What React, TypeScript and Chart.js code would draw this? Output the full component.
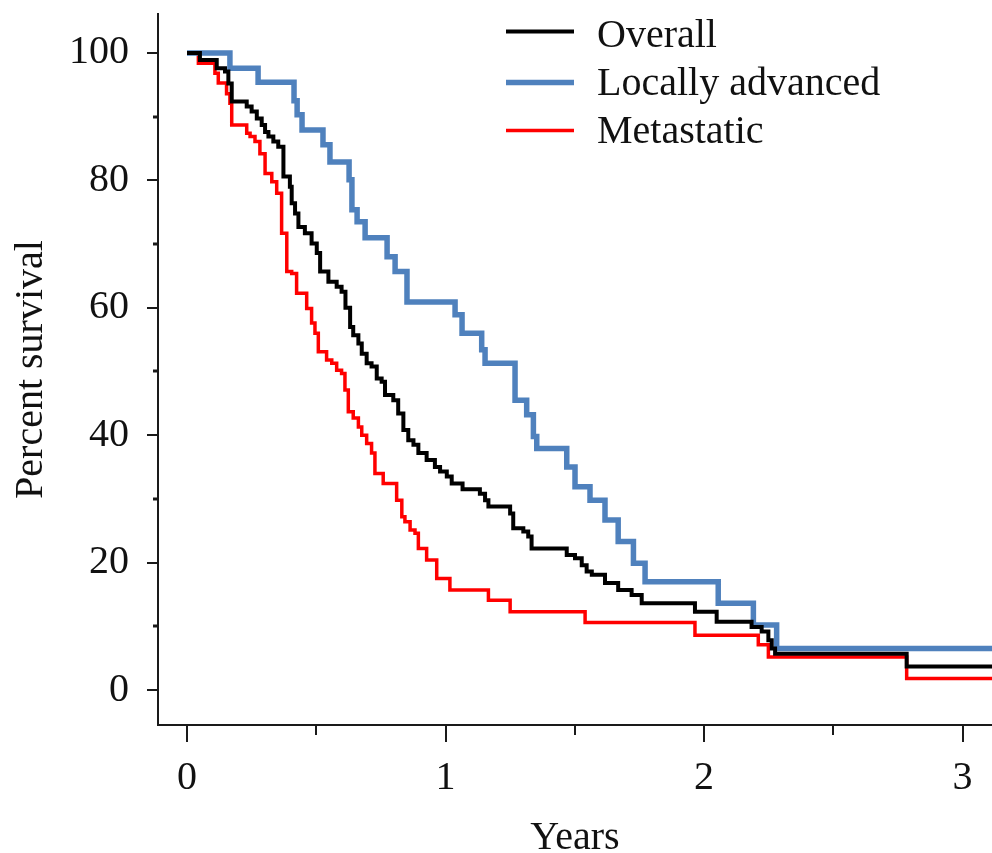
import React, { useEffect, useRef } from 'react';
import { Chart, registerables } from 'chart.js';

Chart.register(...registerables);

// ---------- data ----------
const overallYears = [
  0, 0.05, 0.115, 0.147, 0.16, 0.173, 0.231, 0.25, 0.27, 0.289, 0.302, 0.315, 0.334, 0.353,
  0.373, 0.398, 0.405, 0.418, 0.431, 0.456, 0.482, 0.502, 0.515, 0.547, 0.579, 0.598, 0.613,
  0.631, 0.643, 0.663, 0.676, 0.695, 0.714, 0.734, 0.753, 0.766, 0.798, 0.817, 0.837, 0.856,
  0.876, 0.895, 0.927, 0.959, 0.979, 1.005, 1.024, 1.066, 1.133, 1.153, 1.166, 1.25, 1.262,
  1.301, 1.32, 1.333, 1.469, 1.501, 1.527, 1.546, 1.566, 1.617, 1.668, 1.72, 1.759, 1.965,
  2.049, 2.184, 2.223, 2.249, 2.262, 2.275, 2.784, 3.2,
];
const overallPercent = [
  100, 98.9, 97.6, 97.1, 95.2, 92.4, 91.6, 90.8, 89.7, 88.7, 87.6, 86.9, 86.1, 85.3,
  80.6, 79.0, 76.4, 74.8, 72.7, 71.7, 70.1, 68.6, 65.7, 64.1, 63.3, 62.5, 60.0,
  57.0, 55.7, 54.4, 52.8, 51.3, 50.8, 48.9, 48.4, 46.3, 45.5, 43.4, 40.8, 39.2,
  38.5, 37.2, 36.1, 35.0, 34.3, 33.5, 32.4, 31.5, 30.8, 29.8, 28.8, 27.7, 25.4,
  24.9, 24.1, 22.2, 21.2, 20.7, 19.6, 18.6, 18.1, 16.8, 15.7, 14.9, 13.6, 12.3,
  10.7, 9.9, 9.2, 7.8, 6.5, 5.7, 3.7, 3.7,
];

const locallyYears = [
  0, 0.166, 0.275, 0.414, 0.426, 0.445, 0.526, 0.553, 0.627, 0.638, 0.658, 0.689, 0.774,
  0.805, 0.851, 1.037, 1.064, 1.14, 1.153, 1.269, 1.314, 1.34, 1.353, 1.469, 1.501, 1.559,
  1.617, 1.668, 1.727, 1.772, 2.055, 2.191, 2.281, 3.2,
];
const locallyPercent = [
  100, 97.6, 95.4, 92.5, 90.3, 87.9, 85.6, 82.9, 80.1, 75.4, 73.5, 71.0, 68.0,
  65.7, 60.9, 58.9, 56.0, 53.4, 51.3, 45.5, 43.2, 39.8, 37.9, 35.0, 31.9, 29.8,
  26.7, 23.3, 19.9, 17.0, 13.6, 10.2, 6.5, 6.5,
];

const metastaticYears = [
  0, 0.044, 0.108, 0.121, 0.153, 0.166, 0.173, 0.231, 0.244, 0.263, 0.282, 0.302, 0.328,
  0.347, 0.366, 0.386, 0.405, 0.424, 0.463, 0.482, 0.495, 0.508, 0.54, 0.56, 0.579, 0.598,
  0.611, 0.624, 0.643, 0.663, 0.676, 0.695, 0.714, 0.727, 0.759, 0.811, 0.831, 0.843,
  0.863, 0.882, 0.895, 0.927, 0.966, 1.017, 1.166, 1.25, 1.54, 1.965, 2.21, 2.249, 2.784, 3.2,
];
const metastaticPercent = [
  100, 98.4, 96.8, 95.3, 93.6, 92.1, 88.7, 87.4, 86.9, 86.1, 84.2, 81.1, 79.8,
  78.0, 71.7, 65.7, 65.4, 62.3, 59.9, 57.6, 56.0, 53.1, 51.8, 51.3, 50.2, 49.7,
  47.1, 43.7, 42.7, 41.3, 40.0, 38.7, 37.2, 34.0, 32.4, 29.8, 27.2, 26.4,
  25.1, 24.6, 22.2, 20.4, 17.5, 15.7, 14.1, 12.3, 10.6, 8.6, 7.1, 5.2, 1.8, 1.8,
];

const seriesLabels = ['Overall', 'Locally advanced', 'Metastatic'];
const xTickValues = [0, 1, 2, 3];
const xMinorTickValues = [0.5, 1.5, 2.5];
const yTickValues = [0, 20, 40, 60, 80, 100];
const yMinorTickValues = [10, 30, 50, 70, 90];
const xTitle = 'Years';
const yTitle = 'Percent survival';

// ---------- styles ----------
const FONT = "'Liberation Serif', 'Times New Roman', serif";
const AXIS_COLOR = '#1a1a1a';
const TEXT_COLOR = '#111111';
const seriesColors = ['#000000', '#4f81bd', '#ff0000'];
const seriesWidths = [4, 5.5, 3.5];

const toPoints = (xs: number[], ys: number[]) => xs.map((x, i) => ({ x, y: ys[i] }));

const tickPlugin = {
  id: 'axisTicks',
  afterDraw(chart: any) {
    const { ctx, chartArea, scales } = chart;
    const x = scales.x;
    const y = scales.y;
    ctx.save();
    ctx.strokeStyle = AXIS_COLOR;
    ctx.lineCap = 'butt';
    ctx.lineWidth = 2;
    yTickValues.forEach((v) => {
      const py = Math.round(y.getPixelForValue(v));
      ctx.beginPath();
      ctx.moveTo(chartArea.left - 11, py);
      ctx.lineTo(chartArea.left, py);
      ctx.stroke();
    });
    ctx.lineWidth = 3;
    yMinorTickValues.forEach((v) => {
      const py = Math.round(y.getPixelForValue(v));
      ctx.beginPath();
      ctx.moveTo(chartArea.left - 5, py);
      ctx.lineTo(chartArea.left, py);
      ctx.stroke();
    });
    ctx.lineWidth = 2;
    xTickValues.forEach((v) => {
      const px = Math.round(x.getPixelForValue(v));
      ctx.beginPath();
      ctx.moveTo(px, chartArea.bottom);
      ctx.lineTo(px, chartArea.bottom + 17);
      ctx.stroke();
    });
    xMinorTickValues.forEach((v) => {
      const px = Math.round(x.getPixelForValue(v));
      ctx.beginPath();
      ctx.moveTo(px, chartArea.bottom);
      ctx.lineTo(px, chartArea.bottom + 10);
      ctx.stroke();
    });
    ctx.restore();
  },
};

const legendLineY = [31.5, 82.5, 130.5];
const legendTextBaseline = [46.5, 95, 143];

const legendPlugin = {
  id: 'customLegend',
  afterDraw(chart: any) {
    const { ctx } = chart;
    ctx.save();
    chart.data.datasets.forEach((ds: any, i: number) => {
      ctx.strokeStyle = ds.borderColor;
      ctx.lineWidth = ds.borderWidth;
      ctx.lineCap = 'butt';
      ctx.beginPath();
      ctx.moveTo(506, legendLineY[i]);
      ctx.lineTo(574, legendLineY[i]);
      ctx.stroke();
      ctx.fillStyle = TEXT_COLOR;
      ctx.font = `40px ${FONT}`;
      ctx.textAlign = 'left';
      ctx.textBaseline = 'alphabetic';
      ctx.fillText(ds.label, 597, legendTextBaseline[i]);
    });
    ctx.restore();
  },
};

export default function App() {
  const canvasRef = useRef<HTMLCanvasElement | null>(null);

  useEffect(() => {
    const canvas = canvasRef.current;
    if (!canvas) return;
    const chart = new Chart(canvas, {
      type: 'line',
      data: {
        datasets: [
          {
            label: seriesLabels[0],
            data: toPoints(overallYears, overallPercent),
            borderColor: seriesColors[0],
            borderWidth: seriesWidths[0],
          },
          {
            label: seriesLabels[1],
            data: toPoints(locallyYears, locallyPercent),
            borderColor: seriesColors[1],
            borderWidth: seriesWidths[1],
          },
          {
            label: seriesLabels[2],
            data: toPoints(metastaticYears, metastaticPercent),
            borderColor: seriesColors[2],
            borderWidth: seriesWidths[2],
          },
        ].map((d) => ({
          ...d,
          stepped: 'before' as const,
          pointRadius: 0,
          pointHoverRadius: 0,
          fill: false,
          borderJoinStyle: 'miter' as const,
          borderCapStyle: 'butt' as const,
        })),
      },
      options: {
        animation: false,
        responsive: false,
        devicePixelRatio: 1,
        layout: { padding: { top: 14, right: 0, bottom: 0, left: 0 } },
        plugins: {
          legend: { display: false },
          tooltip: { enabled: false },
        },
        scales: {
          x: {
            type: 'linear',
            min: -0.1122,
            max: 3.1141,
            afterBuildTicks: (scale: any) => {
              scale.ticks = xTickValues.map((v) => ({ value: v }));
            },
            afterFit: (scale: any) => {
              scale.height = 128;
              scale.paddingLeft = 0;
              scale.paddingRight = 0;
              scale.paddingTop = 0;
              scale.paddingBottom = 0;
            },
            grid: { display: false, drawTicks: false },
            border: { display: true, color: AXIS_COLOR, width: 2 },
            ticks: {
              padding: 29,
              color: TEXT_COLOR,
              maxRotation: 0,
              autoSkip: false,
              font: { family: FONT, size: 40, lineHeight: 1.2 },
            },
            title: {
              display: true,
              text: xTitle,
              color: TEXT_COLOR,
              font: { family: FONT, size: 40, lineHeight: 0.75 },
              padding: { top: 0, bottom: 0 },
            },
          },
          y: {
            type: 'linear',
            min: -5.494,
            max: 106.12,
            afterBuildTicks: (scale: any) => {
              scale.ticks = yTickValues.map((v) => ({ value: v }));
            },
            afterFit: (scale: any) => {
              scale.width = 158;
              scale.paddingLeft = 0;
              scale.paddingRight = 0;
              scale.paddingTop = 0;
              scale.paddingBottom = 0;
            },
            grid: { display: false, drawTicks: false },
            border: { display: true, color: AXIS_COLOR, width: 2 },
            ticks: {
              padding: 29,
              color: TEXT_COLOR,
              autoSkip: false,
              font: { family: FONT, size: 40, lineHeight: 1.2 },
            },
            title: {
              display: true,
              text: yTitle,
              color: TEXT_COLOR,
              font: { family: FONT, size: 40, lineHeight: 1 },
              padding: { top: 11, bottom: 0 },
            },
          },
        },
      },
      plugins: [tickPlugin, legendPlugin],
    });
    return () => chart.destroy();
  }, []);

  return (
    <div style={{ position: 'absolute', left: 0, top: 0, width: 992, height: 853, background: '#fff' }}>
      <canvas ref={canvasRef} width={992} height={853} style={{ width: 992, height: 853, display: 'block' }} />
    </div>
  );
}
